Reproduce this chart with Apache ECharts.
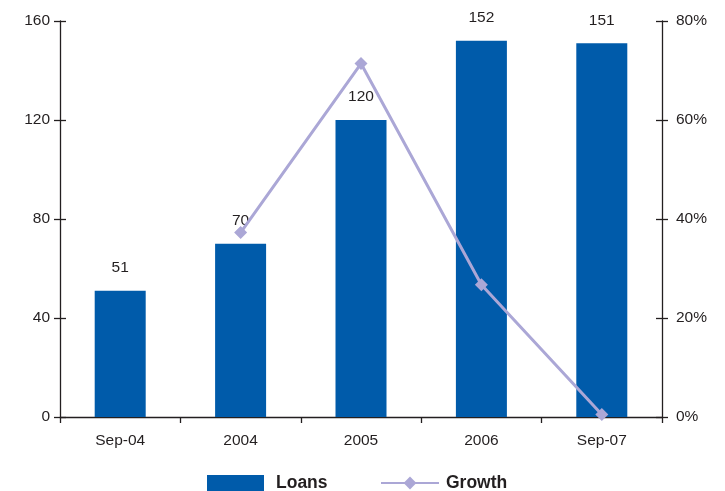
<!DOCTYPE html>
<html>
<head>
<meta charset="utf-8">
<script src="https://cdn.jsdelivr.net/npm/echarts@6/dist/echarts.min.js"></script>
<style>
  html, body { margin: 0; padding: 0; background: #fff; }
  #chart { width: 725px; height: 491px; }
</style>
</head>
<body>
<div id="chart"></div>
<script>
// Loans by period (left axis) and growth rate (right axis, %)
const categories = ['Sep-04', '2004', '2005', '2006', 'Sep-07'];
const loans = [51, 70, 120, 152, 151];
const growth = [null, 37.25, 71.4, 26.7, 0.5];
const leftTicks = { min: 0, max: 160, interval: 40 };
const rightTicks = { min: 0, max: 80, interval: 20 };

const FONT = 'Liberation Sans, Arial, sans-serif';
const TEXT = '#231f20';
const BAR = '#005baa';
const LINE = '#aba7d6';

const axisLine = { show: true, lineStyle: { color: TEXT, width: 1.3 } };
const tickStyle = { color: TEXT, width: 1.3 };

const chart = echarts.init(document.getElementById('chart'));
chart.setOption({
  animation: false,
  grid: { left: 60, right: 63, top: 21, bottom: 74, containLabel: false },
  legend: [
    {
      data: [{ name: 'Loans', icon: 'rect' }],
      left: 202, top: 469,
      itemWidth: 57, itemHeight: 16, itemGap: 10,
      textStyle: { fontFamily: FONT, fontSize: 17.5, fontWeight: 'bold', color: TEXT, padding: [0, 0, 0, 7] }
    },
    {
      data: [{ name: 'Growth' }],
      left: 375, top: 469,
      itemWidth: 58, itemHeight: 16,
      textStyle: { fontFamily: FONT, fontSize: 17.5, fontWeight: 'bold', color: TEXT, padding: [0, 0, 0, 2] }
    }
  ],
  xAxis: {
    type: 'category',
    data: categories,
    boundaryGap: true,
    axisLine: axisLine,
    axisTick: { show: true, inside: false, length: 6, lineStyle: tickStyle },
    axisLabel: { fontFamily: FONT, fontSize: 15.5, color: TEXT, margin: 16 },
    splitLine: { show: false }
  },
  yAxis: [
    {
      type: 'value', position: 'left',
      min: leftTicks.min, max: leftTicks.max, interval: leftTicks.interval,
      axisLine: axisLine,
      axisTick: { show: true, inside: false, length: 6, lineStyle: tickStyle },
      axisLabel: { fontFamily: FONT, fontSize: 15.5, color: TEXT, margin: 10 },
      splitLine: { show: false }
    },
    {
      type: 'value', position: 'right',
      min: rightTicks.min, max: rightTicks.max, interval: rightTicks.interval,
      axisLine: axisLine,
      axisTick: { show: true, inside: false, length: 6, lineStyle: tickStyle },
      axisLabel: { fontFamily: FONT, fontSize: 15.5, color: TEXT, margin: 14, formatter: '{value}%' },
      splitLine: { show: false }
    },
    // inner halves of the cross-shaped ticks
    {
      type: 'value', position: 'left',
      min: leftTicks.min, max: leftTicks.max, interval: leftTicks.interval,
      axisLine: { show: false },
      axisTick: { show: true, inside: true, length: 6, lineStyle: tickStyle },
      axisLabel: { show: false },
      splitLine: { show: false }
    },
    {
      type: 'value', position: 'right',
      min: rightTicks.min, max: rightTicks.max, interval: rightTicks.interval,
      axisLine: { show: false },
      axisTick: { show: true, inside: true, length: 6, lineStyle: tickStyle },
      axisLabel: { show: false },
      splitLine: { show: false }
    }
  ],
  series: [
    {
      name: 'Loans',
      type: 'bar',
      data: loans,
      yAxisIndex: 0,
      barWidth: 51,
      itemStyle: { color: BAR },
      label: {
        show: true, position: 'top', distance: 15,
        fontFamily: FONT, fontSize: 15.5, color: TEXT
      }
    },
    {
      name: 'Growth',
      type: 'line',
      data: growth,
      yAxisIndex: 1,
      connectNulls: false,
      symbol: 'diamond',
      symbolSize: 13,
      lineStyle: { color: LINE, width: 3 },
      itemStyle: { color: LINE },
      z: 3
    }
  ]
});
</script>
</body>
</html>
